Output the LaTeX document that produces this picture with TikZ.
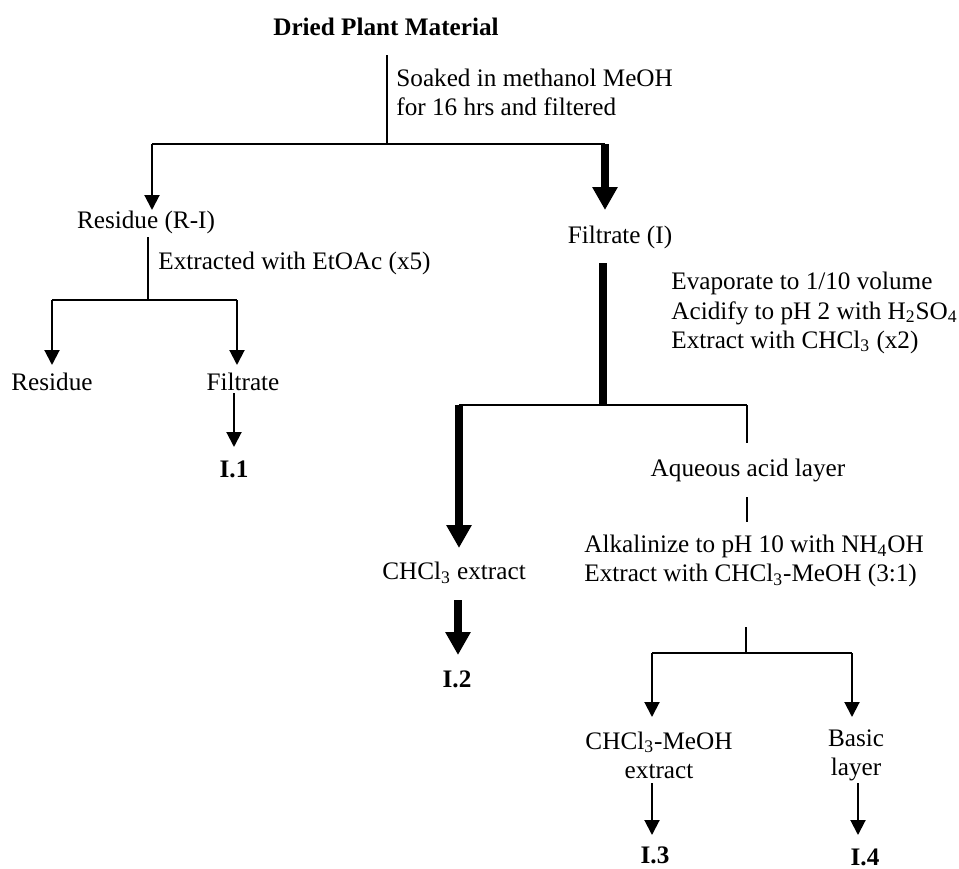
\documentclass[tikz,border=0pt]{standalone}
\usepackage{fontspec}
\setmainfont{Liberation Serif}
\usetikzlibrary{arrows.meta}
\begin{document}
\begin{tikzpicture}[x=0.5pt,y=-0.5pt,
  every node/.style={inner sep=0pt,font=\fontsize{12.6}{14.6}\selectfont},
  lbl/.style={anchor=west,align=left},
  ctr/.style={align=center},
  bold/.style={font=\fontsize{12.6}{14.6}\selectfont\bfseries},
  ln/.style={line width=0.65pt},
  tarrow/.style={line width=1pt,-{Triangle[width=7.5pt,length=7.5pt]}},
  Tline/.style={line width=4pt},
  Tarrow/.style={line width=4pt,-{Triangle[width=12pt,length=11.5pt]}}]
\useasboundingbox (0,0) rectangle (959,868);
% nodes
\node[bold] (title) at (386,27) {Dried Plant Material};
\node[lbl] (soak) at (396,92) {Soaked in methanol MeOH\\for 16 hrs and filtered};
\node (resRI) at (146,222) {Residue (R-I)};
\node (filI) at (620,237) {Filtrate (I)};
\node[lbl] (extr) at (158,263) {Extracted with EtOAc (x5)};
\node (res) at (52,382) {Residue};
\node (fil) at (243,382) {Filtrate};
\node[bold] (i1) at (234,469) {I.1};
\node[lbl] (evap) at (671,313) {Evaporate to 1/10 volume\\Acidify to pH 2 with H\textsubscript{2}SO\textsubscript{4}\\Extract with CHCl\textsubscript{3} (x2)};
\node (chcl) at (454,573) {CHCl\textsubscript{3} extract};
\node[bold] (i2) at (457,679) {I.2};
\node (aq) at (748,470) {Aqueous acid layer};
\node[lbl] (alk) at (584,561) {Alkalinize to pH 10 with NH\textsubscript{4}OH\\Extract with CHCl\textsubscript{3}-MeOH (3:1)};
\node[ctr] (cm) at (659,755) {CHCl\textsubscript{3}-MeOH\\extract};
\node[ctr] (bas) at (856,755) {Basic\\layer};
\node[bold] (i3) at (655,855) {I.3};
\node[bold] (i4) at (865,857) {I.4};
% coordinates
\coordinate (t0) at (387,55);
\coordinate (s1) at (387,144);
\coordinate (s1L) at (152,144);
\coordinate (s1R) at (605,144);
\coordinate (e1) at (152,210);
\coordinate (e2) at (605,210);
\coordinate (r0) at (148,237);
\coordinate (s2) at (148,300);
\coordinate (s2L) at (52,300);
\coordinate (s2R) at (237,300);
\coordinate (e3) at (52,365);
\coordinate (e4) at (237,365);
\coordinate (f0) at (234,393);
\coordinate (e5) at (234,447);
\coordinate (g0) at (603,263);
\coordinate (s3) at (603,405);
\coordinate (s3L) at (459,405);
\coordinate (s3R) at (747,405);
\coordinate (e6) at (459,548);
\coordinate (a1) at (747,443);
\coordinate (b0) at (747,497);
\coordinate (b1) at (747,522);
\coordinate (c0) at (458,600);
\coordinate (e7) at (458,655);
\coordinate (d0) at (746,627);
\coordinate (s4) at (746,653);
\coordinate (s4L) at (652,653);
\coordinate (s4R) at (852,653);
\coordinate (e8) at (652,717);
\coordinate (e9) at (852,717);
\coordinate (h0) at (652,783);
\coordinate (e10) at (652,835);
\coordinate (k0) at (858,783);
\coordinate (e11) at (858,835);
% connectors
\draw[ln] (t0) -- (s1);
\draw[ln] (s1L) -- (s1R);
\draw[tarrow] (s1L) -- (e1);
\draw[Tarrow] (s1R) -- (e2);
\draw[ln] (r0) -- (s2);
\draw[ln] (s2L) -- (s2R);
\draw[tarrow] (s2L) -- (e3);
\draw[tarrow] (s2R) -- (e4);
\draw[tarrow] (f0) -- (e5);
\draw[Tline] (g0) -- (s3);
\draw[ln] (s3L) -- (s3R);
\draw[Tarrow] (s3L) -- (e6);
\draw[ln] (s3R) -- (a1);
\draw[ln] (b0) -- (b1);
\draw[Tarrow] (c0) -- (e7);
\draw[ln] (d0) -- (s4);
\draw[ln] (s4L) -- (s4R);
\draw[tarrow] (s4L) -- (e8);
\draw[tarrow] (s4R) -- (e9);
\draw[tarrow] (h0) -- (e10);
\draw[tarrow] (k0) -- (e11);
\end{tikzpicture}
\end{document}
